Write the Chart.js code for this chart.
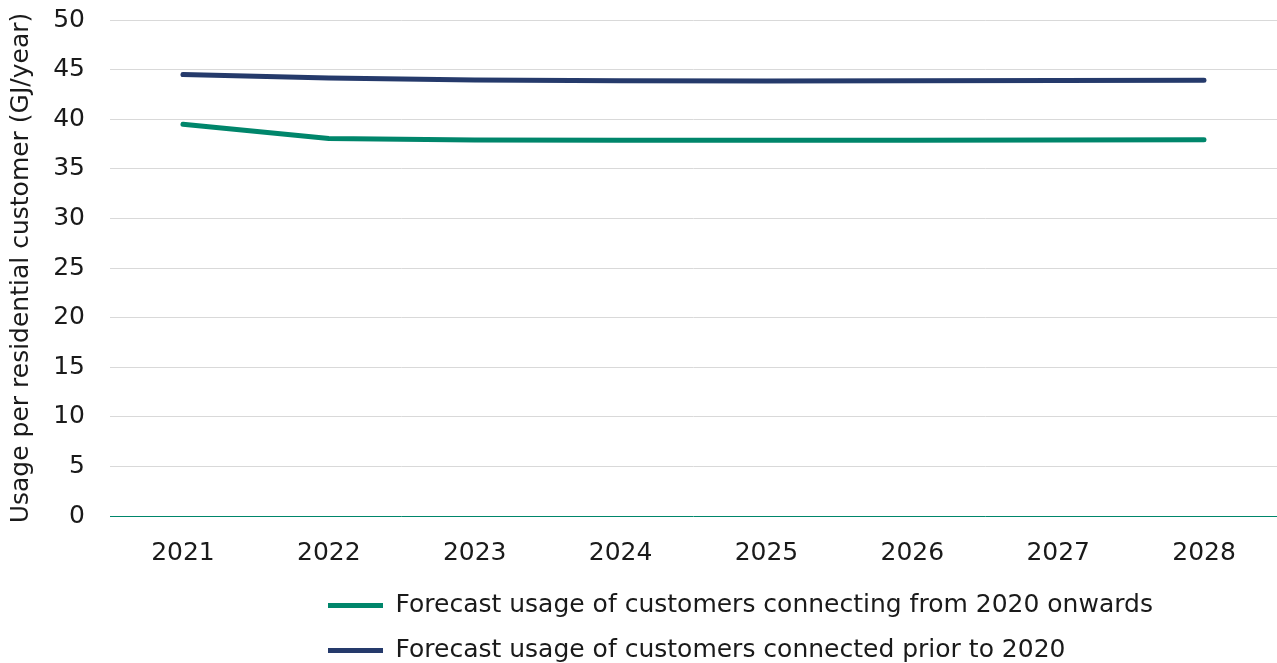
<!DOCTYPE html>
<html>
<head>
<meta charset="utf-8">
<script src="https://cdn.jsdelivr.net/npm/chart.js@4"></script>
<style>
  html, body { margin: 0; padding: 0; background: #ffffff; }
  #wrap { width: 1277px; height: 663px; }
</style>
</head>
<body>
<div id="wrap"><canvas id="usageChart"></canvas></div>
<script>
// 住宅用顧客あたりの使用量予測（GJ/年）
const years = ['2021', '2022', '2023', '2024', '2025', '2026', '2027', '2028'];
const newCustomerUsage = [39.5, 38.05, 37.9, 37.88, 37.88, 37.88, 37.9, 37.92];
const existingCustomerUsage = [44.5, 44.15, 43.95, 43.88, 43.85, 43.88, 43.9, 43.92];
const seriesLabels = [
  'Forecast usage of customers connecting from 2020 onwards',
  'Forecast usage of customers connected prior to 2020'
];
const yTicks = [0, 5, 10, 15, 20, 25, 30, 35, 40, 45, 50];

const GREEN = '#00866b';
const NAVY = '#253a6b';
const FONT = "'DejaVu Sans', sans-serif";

Chart.defaults.font.family = FONT;
Chart.defaults.color = '#1a1a1a';

// 凡例の位置を調整
const legendShift = {
  id: 'legendShift',
  afterLayout(chart) {
    const lg = chart.legend;
    if (lg) {
      lg.left = 308;
      lg.top += 10;
      lg.bottom += 10;
    }
  }
};

const ctx = document.getElementById('usageChart').getContext('2d');
new Chart(ctx, {
  type: 'line',
  data: {
    labels: years,
    datasets: [
      {
        label: seriesLabels[0],
        data: newCustomerUsage,
        borderColor: GREEN,
        backgroundColor: GREEN,
        borderWidth: 5,
        borderCapStyle: 'round',
        borderJoinStyle: 'round',
        pointRadius: 0,
        tension: 0
      },
      {
        label: seriesLabels[1],
        data: existingCustomerUsage,
        borderColor: NAVY,
        backgroundColor: NAVY,
        borderWidth: 5,
        borderCapStyle: 'round',
        borderJoinStyle: 'round',
        pointRadius: 0,
        tension: 0
      }
    ]
  },
  options: {
    responsive: true,
    maintainAspectRatio: false,
    animation: false,
    layout: { padding: { top: 20, right: 0, bottom: 0, left: 0 } },
    plugins: {
      tooltip: { enabled: false },
      legend: {
        position: 'bottom',
        align: 'start',
        labels: {
          usePointStyle: true,
          pointStyle: 'line',
          pointStyleWidth: 55,
          boxHeight: 24,
          padding: 20,
          font: { size: 25 },
          color: '#1a1a1a'
        }
      }
    },
    scales: {
      x: {
        offset: true,
        grid: { display: false },
        border: { display: false },
        ticks: { font: { size: 25 }, padding: 14, maxRotation: 0 },
        afterFit(scale) { scale.height = 47; }
      },
      y: {
        min: 0,
        max: 50,
        afterBuildTicks(scale) { scale.ticks = yTicks.map(v => ({ value: v })); },
        grid: {
          color: c => (c.tick && c.tick.value === 0 ? GREEN : '#d9d9d9'),
          lineWidth: 1,
          drawTicks: false
        },
        border: { display: false },
        ticks: { font: { size: 25 }, padding: 25 },
        title: {
          display: true,
          text: 'Usage per residential customer (GJ/year)',
          font: { size: 25 },
          padding: { top: 6, bottom: 0 }
        },
        afterFit(scale) {
          scale.width = 110;
          scale.paddingTop = 0;
        }
      }
    }
  },
  plugins: [legendShift]
});
</script>
</body>
</html>
